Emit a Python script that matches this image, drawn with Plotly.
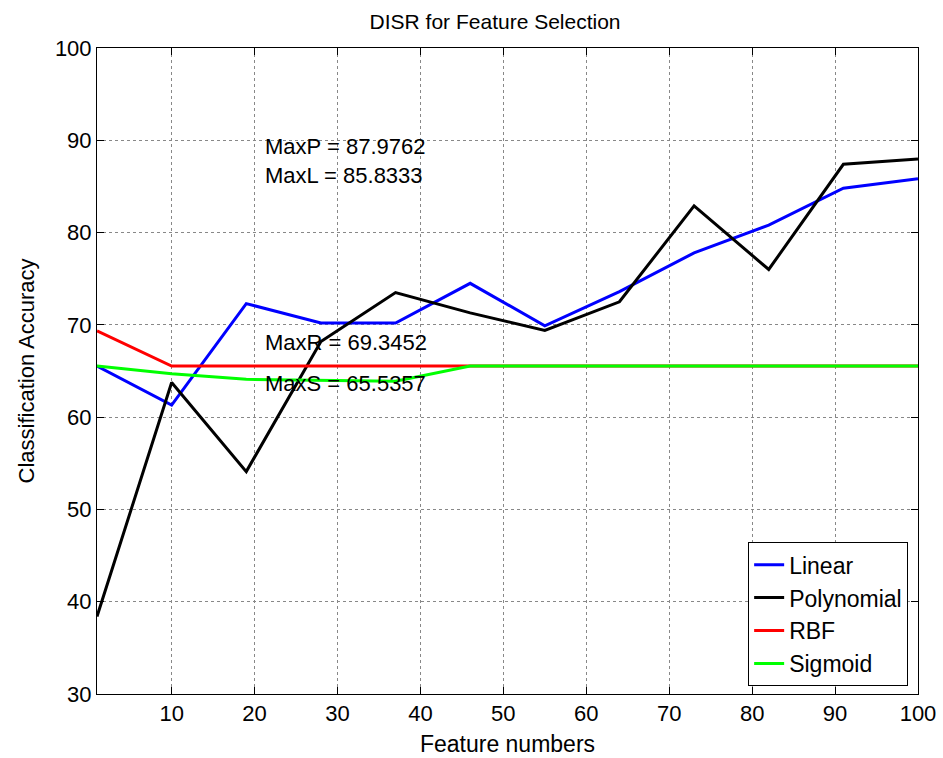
import plotly.graph_objects as go

features = [1, 10, 19, 28, 37, 46, 55, 64, 73, 82, 91, 100]
linear = [65.5357, 61.3, 72.3, 70.2, 70.2, 74.5, 69.9, 73.6, 77.8, 80.8, 84.8, 85.8333]
polynomial = [38.4, 63.75, 54.1, 68.2, 73.5, 71.3, 69.4, 72.5, 82.9, 76.0, 87.4, 87.9762]
rbf = [69.3452, 65.5357, 65.5357, 65.5357, 65.5357, 65.5357, 65.5357, 65.5357, 65.5357, 65.5357, 65.5357, 65.5357]
sigmoid = [65.5357, 64.7, 64.1, 64.0, 63.9, 65.5357, 65.5357, 65.5357, 65.5357, 65.5357, 65.5357, 65.5357]

series = [("Linear", linear, "#0000FF"), ("Polynomial", polynomial, "#000000"),
          ("RBF", rbf, "#FF0000"), ("Sigmoid", sigmoid, "#00FF00")]

ann_text = ["MaxP = 87.9762<br>MaxL = 85.8333", "MaxR = 69.3452", "MaxS = 65.5357"]
ann_x = [21, 21, 21]
ann_y = [87.8, 68.05, 63.6]

FONT = "Liberation Sans, Arial, sans-serif"

fig = go.Figure()
for name, vals, col in series:
    fig.add_trace(go.Scatter(x=features, y=vals, mode="lines", name=name,
                             line=dict(color=col, width=3)))

for t, x, y in zip(ann_text, ann_x, ann_y):
    fig.add_annotation(x=x, y=y, text=t, showarrow=False, xanchor="left", yanchor="middle",
                       align="left", font=dict(size=22, color="black", family=FONT))

axis_common = dict(showline=True, linecolor="black", linewidth=1, mirror="ticks",
                   ticks="inside", ticklen=7, tickcolor="black", automargin=False,
                   showgrid=True, gridcolor="#888888", griddash="dot", gridwidth=1,
                   zeroline=False, tickfont=dict(size=22, color="black", family=FONT))

fig.update_xaxes(range=[1, 100], tickvals=list(range(10, 101, 10)),
                 title=dict(text="Feature numbers", font=dict(size=23, color="black", family=FONT), standoff=10),
                 **axis_common)
fig.update_yaxes(range=[30, 100], tickvals=list(range(30, 101, 10)),
                 title=dict(text="Classification Accuracy", font=dict(size=22, color="black", family=FONT), standoff=14),
                 **axis_common)

fig.update_layout(
    width=943, height=758,
    margin=dict(l=97, r=25, t=48, b=64),
    paper_bgcolor="white", plot_bgcolor="white",
    title=dict(text="DISR for Feature Selection", x=0.525, xanchor="center", y=0.971, yanchor="middle",
               font=dict(size=21, color="black", family=FONT)),
    legend=dict(x=0.988, y=0.012, xanchor="right", yanchor="bottom",
                bordercolor="black", borderwidth=1, bgcolor="white",
                font=dict(size=23, color="black", family=FONT), tracegroupgap=0),
    showlegend=True,
)

fig.write_html("out.html")
